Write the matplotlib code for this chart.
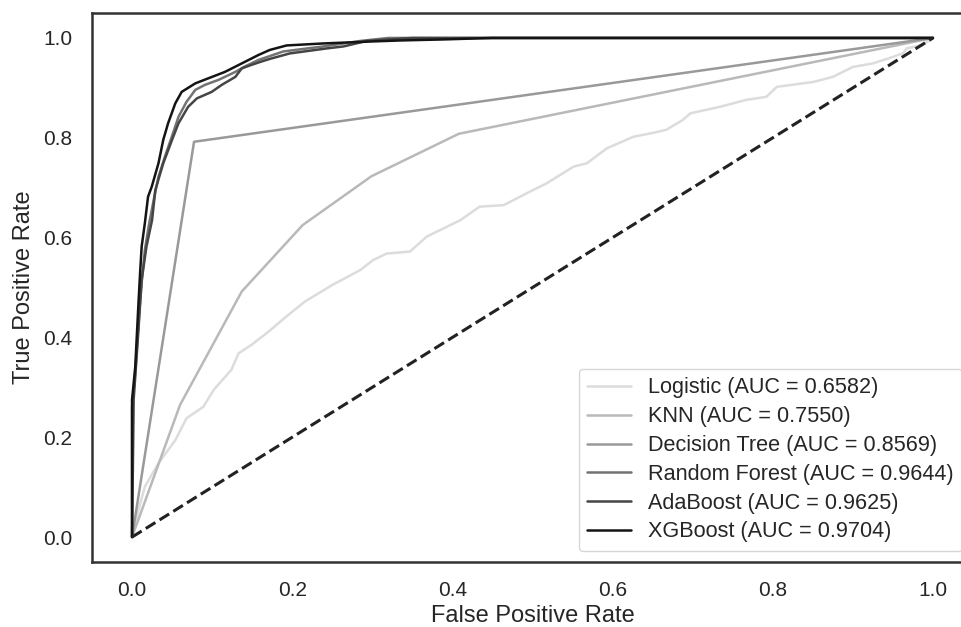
import matplotlib
matplotlib.use("Agg")
import matplotlib.pyplot as plt
import seaborn as sns

sns.set_style("white")
plt.rcParams['font.family'] = ['Liberation Sans', 'DejaVu Sans']

# ROC points
log_fpr = [0, 0.004, 0.016, 0.033, 0.054, 0.068, 0.089, 0.102, 0.124, 0.133, 0.149, 0.170, 0.195, 0.216,
           0.25, 0.285, 0.301, 0.318, 0.347, 0.368, 0.410, 0.434, 0.464, 0.493, 0.518, 0.551, 0.568, 0.593,
           0.626, 0.651, 0.667, 0.688, 0.697, 0.734, 0.767, 0.792, 0.805, 0.851, 0.875, 0.900, 0.925, 0.950,
           0.963, 0.967, 0.987, 1.0]
log_tpr = [0, 0.03, 0.101, 0.148, 0.194, 0.238, 0.261, 0.295, 0.335, 0.368, 0.385, 0.411, 0.445, 0.472,
           0.505, 0.535, 0.555, 0.568, 0.572, 0.602, 0.635, 0.662, 0.665, 0.689, 0.709, 0.742, 0.749, 0.779,
           0.802, 0.810, 0.816, 0.836, 0.849, 0.862, 0.876, 0.882, 0.902, 0.912, 0.922, 0.942, 0.949, 0.962,
           0.970, 0.979, 0.986, 1.0]

knn_fpr = [0, 0.060, 0.137, 0.213, 0.299, 0.408, 1.0]
knn_tpr = [0, 0.265, 0.492, 0.625, 0.723, 0.808, 1.0]

dt_fpr = [0, 0.0774, 1.0]
dt_tpr = [0, 0.792, 1.0]

rf_fpr = [0, 0, 0.004, 0.009, 0.012, 0.016, 0.021, 0.027, 0.033, 0.041, 0.0496, 0.058, 0.068, 0.079,
          0.091, 0.108, 0.129, 0.141, 0.158, 0.189, 0.239, 0.285, 0.32, 1.0]
rf_tpr = [0, 0.26, 0.33, 0.45, 0.51, 0.575, 0.625, 0.675, 0.722, 0.762, 0.802, 0.842, 0.872, 0.896,
          0.906, 0.916, 0.932, 0.943, 0.956, 0.973, 0.983, 0.994, 1.0, 1.0]

ada_fpr = [0, 0.002, 0.008, 0.012, 0.018, 0.025, 0.029, 0.039, 0.050, 0.058, 0.070, 0.081, 0.091, 0.0995,
           0.112, 0.129, 0.137, 0.149, 0.162, 0.172, 0.197, 0.243, 0.264, 0.293, 0.35, 1.0]
ada_tpr = [0, 0.275, 0.415, 0.515, 0.582, 0.635, 0.695, 0.749, 0.796, 0.829, 0.862, 0.879, 0.886, 0.892,
           0.906, 0.922, 0.939, 0.946, 0.953, 0.958, 0.969, 0.979, 0.983, 0.994, 1.0, 1.0]

xgb_fpr = [0, 0, 0.004, 0.008, 0.010, 0.012, 0.016, 0.020, 0.0246, 0.033, 0.039, 0.045, 0.054, 0.062,
           0.079, 0.095, 0.116, 0.137, 0.158, 0.172, 0.193, 0.239, 0.30, 0.335, 0.388, 0.45, 1.0]
xgb_tpr = [0, 0.275, 0.341, 0.468, 0.528, 0.582, 0.629, 0.682, 0.702, 0.749, 0.796, 0.829, 0.869, 0.892,
           0.909, 0.919, 0.932, 0.949, 0.966, 0.976, 0.985, 0.989, 0.993, 0.995, 0.997, 1.0, 1.0]

models = ['Logistic', 'KNN', 'Decision Tree', 'Random Forest', 'AdaBoost', 'XGBoost']
aucs = [0.6582, 0.7550, 0.8569, 0.9644, 0.9625, 0.9704]
curves = [(log_fpr, log_tpr), (knn_fpr, knn_tpr), (dt_fpr, dt_tpr),
          (rf_fpr, rf_tpr), (ada_fpr, ada_tpr), (xgb_fpr, xgb_tpr)]
colors = ['#dcdcdc', '#b9b9b9', '#999999', '#737373', '#454545', '#141414']

fig = plt.figure(figsize=(9.62, 6.27), dpi=100)
ax = fig.add_axes([92 / 962, 65 / 627, 881 / 962, 549 / 627])

for (fpr, tpr), name, auc, c in zip(curves, models, aucs, colors):
    ax.plot(fpr, tpr, color=c, lw=1.8, label='%s (AUC = %.4f)' % (name, auc))

ax.plot([0, 1], [0, 1], '--', lw=2.2, color='#222222')

ax.set_xlim(-0.05, 1.05)
ax.set_ylim(-0.05, 1.05)
ax.set_xticks([0, 0.2, 0.4, 0.6, 0.8, 1.0])
ax.set_yticks([0, 0.2, 0.4, 0.6, 0.8, 1.0])
ax.tick_params(labelsize=15, colors='#262626', pad=10.5)
ax.set_xlabel('False Positive Rate', fontsize=17, color='#262626', labelpad=3)
ax.set_ylabel('True Positive Rate', fontsize=17, color='#262626', labelpad=6)
for s in ax.spines.values():
    s.set_linewidth(1.8)
    s.set_color('#333333')

ax.legend(loc='lower right', fontsize=15.6, borderaxespad=0.5, labelspacing=0.36)

plt.savefig('out.png', dpi=100)
